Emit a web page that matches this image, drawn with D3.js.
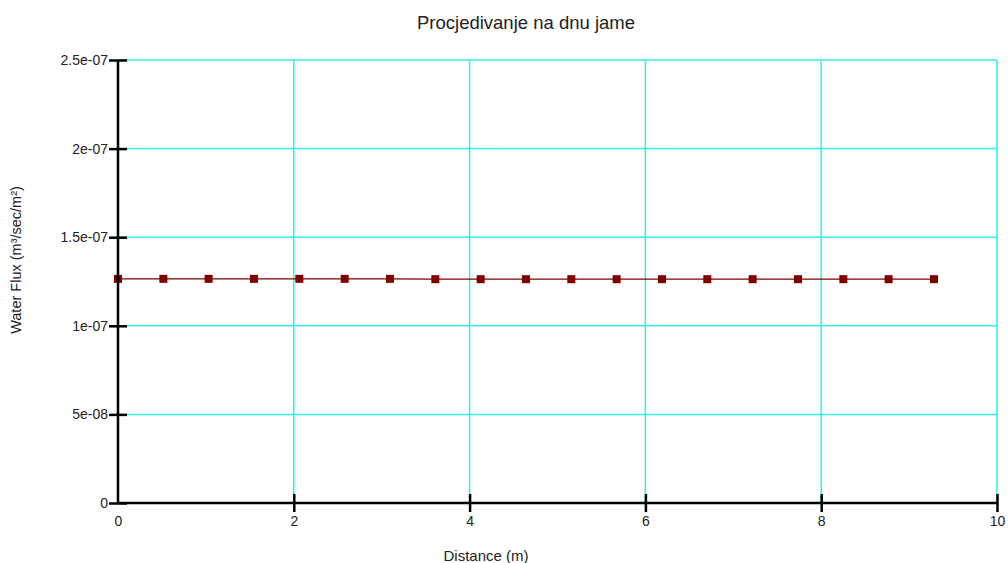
<!DOCTYPE html>
<html><head><meta charset="utf-8">
<script src="https://cdn.jsdelivr.net/npm/d3@7"></script>
<style>body{margin:0;background:#fff}svg{display:block}text{font-family:"Liberation Sans",Arial,sans-serif;fill:#222}</style>
</head><body>
<script>
const distances = [0, 0.516, 1.031, 1.547, 2.063, 2.579, 3.094, 3.610, 4.126, 4.641, 5.157, 5.673, 6.189, 6.704, 7.220, 7.736, 8.252, 8.767, 9.283];
const fluxValues = [1.265e-7, 1.265e-7, 1.265e-7, 1.265e-7, 1.265e-7, 1.265e-7, 1.265e-7, 1.263e-7, 1.263e-7, 1.263e-7, 1.263e-7, 1.263e-7, 1.263e-7, 1.263e-7, 1.263e-7, 1.263e-7, 1.263e-7, 1.263e-7, 1.263e-7];
const xTicks = [0, 2, 4, 6, 8, 10];
const yTicks = [0, 5e-8, 1e-7, 1.5e-7, 2e-7, 2.5e-7];
const yTickLabels = ["0", "5e-08", "1e-07", "1.5e-07", "2e-07", "2.5e-07"];
const title = "Procjedivanje na dnu jame";
const xTitle = "Distance (m)";
const yTitle = "Water Flux (m³/sec/m²)";

const W = 1008, H = 563;
const svg = d3.select("body").append("svg").attr("width", W).attr("height", H);
const x = d3.scaleLinear().domain([0, 10]).range([118, 997]);
const y = d3.scaleLinear().domain([0, 2.5e-7]).range([503, 60]);

// grid
svg.append("g").selectAll("line").data(xTicks.filter(d => d > 0)).join("line")
  .attr("x1", d => x(d)).attr("x2", d => x(d)).attr("y1", y(0)).attr("y2", y(2.5e-7))
  .attr("stroke", "#33eeee").attr("stroke-width", 1.5);
svg.append("g").selectAll("line").data(yTicks.filter(d => d > 0)).join("line")
  .attr("x1", x(0)).attr("x2", x(10)).attr("y1", d => y(d)).attr("y2", d => y(d))
  .attr("stroke", "#33eeee").attr("stroke-width", 1.5);

// series
const data = distances.map((d, i) => ({x: d, y: fluxValues[i]}));
svg.append("path").datum(data)
  .attr("d", d3.line().x(d => x(d.x)).y(d => y(d.y)))
  .attr("fill", "none").attr("stroke", "#800000").attr("stroke-width", 1.3);
svg.append("g").selectAll("rect").data(data).join("rect")
  .attr("x", d => x(d.x) - 4).attr("y", d => y(d.y) - 4)
  .attr("width", 8).attr("height", 8).attr("fill", "#800000");

// axes
const yAxis = d3.axisLeft(y).tickValues(yTicks).tickFormat((d, i) => yTickLabels[i]).tickSize(9).tickPadding(1);
const gy = svg.append("g").attr("transform", `translate(${x(0)},0)`).call(yAxis);
const xAxis = d3.axisBottom(x).tickValues(xTicks).tickFormat(d3.format("d")).tickSize(9).tickPadding(2);
const gx = svg.append("g").attr("transform", `translate(0,${y(0)})`).call(xAxis);
[gx, gy].forEach(g => {
  g.select(".domain").attr("stroke", "#000").attr("stroke-width", 2.5);
  g.selectAll(".tick line").attr("stroke", "#000").attr("stroke-width", 2.5);
  g.selectAll("text").attr("font-size", 14).attr("fill", "#222").attr("font-family", '"Liberation Sans",Arial,sans-serif');
});
gy.selectAll(".tick line").attr("x1", 9);
gx.selectAll(".tick line").attr("y1", -9).attr("y2", 9);
gx.selectAll(".tick text").attr("y", 13);
gy.selectAll(".tick text").attr("x", -10);
gx.select(".domain").attr("d", `M${x(0)},0H${x(10)}`);
gy.select(".domain").attr("d", `M0,${y(0)}V${y(2.5e-7)}`);
gx.selectAll(".tick").filter(d => d === 0).select("line").remove();

svg.append("text").attr("x", 526).attr("y", 29).attr("text-anchor", "middle").attr("font-size", 18.5).text(title);
svg.append("text").attr("x", 486).attr("y", 561).attr("text-anchor", "middle").attr("font-size", 15).text(xTitle);
svg.append("text").attr("transform", "translate(21,260) rotate(-90)").attr("text-anchor", "middle").attr("font-size", 14.5).text(yTitle);
</script>
</body></html>
